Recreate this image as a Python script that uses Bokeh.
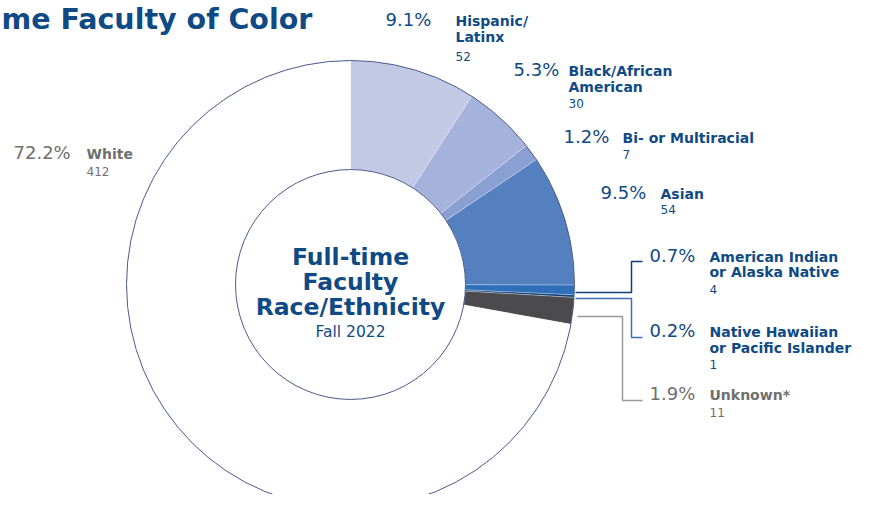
import numpy as np
from bokeh.plotting import figure
from bokeh.models import Range1d, ColumnDataSource
from bokeh.core.properties import value
from bokeh.embed import file_html
from bokeh.resources import INLINE

# ---- data ----
categories = ["Hispanic/Latinx", "Black/African American", "Bi- or Multiracial", "Asian",
              "American Indian or Alaska Native", "Native Hawaiian or Pacific Islander",
              "Unknown*", "White"]
counts = [52, 30, 7, 54, 4, 1, 11, 412]
percents = ["9.1%", "5.3%", "1.2%", "9.5%", "0.7%", "0.2%", "1.9%", "72.2%"]
label_lines = [["Hispanic/", "Latinx"], ["Black/African", "American"], ["Bi- or Multiracial"],
               ["Asian"], ["American Indian", "or Alaska Native"],
               ["Native Hawaiian", "or Pacific Islander"], ["Unknown*"], ["White"]]
colors = ["#c3c9e5", "#a4b2dc", "#8a9fd2", "#5580c0", "#2f6fba", "#0d3f7a", "#4b4b4d", "#ffffff"]

W, H = 858, 494
def X(rx): return rx
def Y(ry): return H - ry
def YT(ry, size): return H - (ry - 0.35 * size)   # baseline correction for text

NAVY = "#0f4a85"
GRAY = "#6f6f71"
SANS = value("DejaVu Sans")

p = figure(width=W, height=H, output_backend="svg", toolbar_location=None,
           x_range=Range1d(0, W), y_range=Range1d(0, H), min_border=0)
p.axis.visible = False
p.grid.visible = False
p.outline_line_color = None
p.background_fill_color = "white"

cx, cy = X(350), Y(284)
R_out, R_in = 224, 115

total = sum(counts)
cum = np.cumsum([0] + counts) / total
start = np.pi / 2 - cum[:-1] * 2 * np.pi
end = np.pi / 2 - cum[1:] * 2 * np.pi
src = ColumnDataSource(dict(start=start, end=end, color=colors))
p.annular_wedge(x=cx, y=cy, inner_radius=R_in, outer_radius=R_out, start_angle="start",
                end_angle="end", direction="clock", fill_color="color",
                line_color="white", line_alpha=0.5, line_width=0.6, source=src)
p.circle(x=[cx], y=[cy], radius=R_out, fill_color=None, line_color="#4a5a8c", line_width=1)
p.circle(x=[cx], y=[cy], radius=R_in, fill_color=None, line_color="#4a5a8c", line_width=1)

# title (cropped in original)
p.text(x=[X(1)], y=[YT(29, 28.5)], text=["me Faculty of Color"], text_font=SANS,
       text_font_size="28.5px", text_font_style="bold", text_color=NAVY,
       text_baseline="alphabetic")

# center text
p.text(x=[cx] * 3, y=[YT(265, 23.5), YT(290, 23.5), YT(315, 23.5)],
       text=["Full-time", "Faculty", "Race/Ethnicity"],
       text_font=SANS, text_font_size="23.5px", text_font_style="bold", text_color=NAVY,
       text_align="center", text_baseline="alphabetic")
p.text(x=[cx], y=[YT(337, 15.5)], text=["Fall 2022"], text_font=SANS, text_font_size="15.5px",
       text_color=NAVY, text_align="center", text_baseline="alphabetic")

# label layout (ref pixel coords): pct x, label x, first baseline, line gap, count baseline
layout = [(385, 455, 25, 16, 60), (513, 568, 75, 16, 107), (563, 622, 142, 16, 158),
          (600, 660, 198, 16, 213), (649, 709, 261, 15, 293), (649, 709, 336, 16, 368),
          (649, 709, 399, 16, 416), (13, 86, 158, 16, 175)]
for i, (px, lx, by, gap, cb) in enumerate(layout):
    col = GRAY if categories[i] in ("Unknown*", "White") else NAVY
    p.text(x=[X(px)], y=[YT(by, 18)], text=[percents[i]], text_font=SANS, text_font_size="18px",
           text_color=col, text_baseline="alphabetic")
    lines = label_lines[i]
    p.text(x=[X(lx)] * len(lines), y=[YT(by + k * gap, 14) for k in range(len(lines))],
           text=lines, text_font=SANS, text_font_size="14px", text_font_style="bold",
           text_color=col, text_baseline="alphabetic")
    p.text(x=[X(lx)], y=[YT(cb, 12)], text=[str(counts[i])], text_font=SANS,
           text_font_size="12px", text_color=col, text_baseline="alphabetic")

# leader lines
p.line(x=[X(575), X(631), X(631), X(642)], y=[Y(292), Y(292), Y(261), Y(261)],
       line_color="#0d3f7a", line_width=1.5)
p.line(x=[X(575), X(631), X(631), X(642)], y=[Y(298), Y(298), Y(337), Y(337)],
       line_color="#3a70b5", line_width=1.5)
p.line(x=[X(577), X(622), X(622), X(642)], y=[Y(316), Y(316), Y(400), Y(400)],
       line_color="#9a9a9a", line_width=1.5)

open("out.html", "w").write(file_html(p, INLINE))
